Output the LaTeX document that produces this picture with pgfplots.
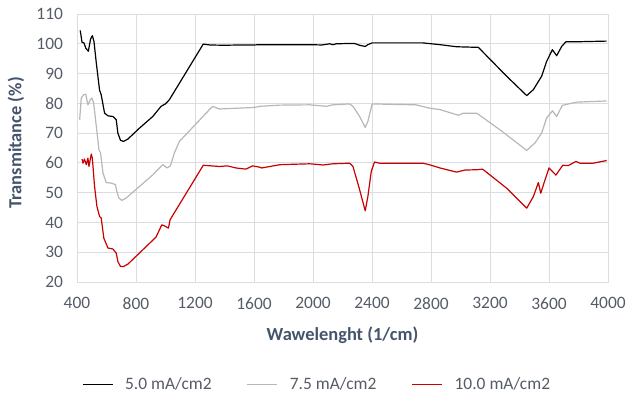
\documentclass[border=0pt]{standalone}
\usepackage{fontspec}
\setmainfont{Carlito}
\usepackage{pgfplots}
\pgfplotsset{compat=1.18}
\definecolor{gridc}{RGB}{217,221,228}
\definecolor{tickc}{RGB}{85,92,104}
\definecolor{labc}{RGB}{68,84,106}
\definecolor{grayc}{RGB}{183,183,183}
\definecolor{redc}{RGB}{200,0,0}
\begin{document}
\begin{tikzpicture}
\begin{axis}[
  scale only axis, width=531bp, height=268bp,
  xmin=400, xmax=4000, ymin=20, ymax=110,
  xtick={400,800,...,4000}, ytick={20,30,...,110},
  grid=major, major grid style={color=gridc, line width=0.9pt},
  axis line style={gridc, line width=0.9pt},
  tick style={draw=none},
  /pgf/number format/assume math mode=true,
  /pgf/number format/1000 sep={},
  ticklabel style={font=\fontsize{17.5}{19}\selectfont, text=tickc},
  xticklabel style={yshift=-12bp},
  yticklabel style={xshift=-10.5bp},
  xlabel={Wawelenght (1/cm)},
  ylabel={Transmitance (\%)},
  label style={font=\fontsize{18.5}{20}\selectfont\bfseries, text=labc},
  xlabel style={at={(axis description cs:0.5,-0.2)}, anchor=center},
  ylabel style={at={(axis description cs:-0.115,0.519)}, anchor=center, rotate=0},
  legend style={at={(axis description cs:0.452,-0.381)}, anchor=center, draw=none,
    legend columns=3, font=\fontsize{17.5}{19}\selectfont, text=tickc,
    /tikz/every even column/.append style={column sep=33bp}},
  legend image code/.code={\draw[#1] (0bp,0bp) -- (30bp,0bp); \path (40bp,0bp);},
  every axis plot/.append style={line width=1.2pt, line join=round},
]
\addplot[black] coordinates {
(422,104.5) (434,100.5) (447,100.3) (460,98.5) (477,97.5) (492,101.6) (504,102.7) (515,100.8) (531,93.5) (553,84.4) (564,82.9) (587,76.7) (610,75.8) (643,75.6) (666,74.5) (677,70) (695,67.6) (715,67.2) (745,68) (824,71.7) (914,75.6) (970,79) (999,79.8) (1026,81.2) (1256,99.9) (1300,99.6) (1400,99.5) (1500,99.6) (1600,99.6) (1640,99.7) (1776,99.7) (1978,99.7) (2060,99.6) (2113,100) (2135,99.7) (2158,100) (2248,100.1) (2282,100.1) (2316,99.5) (2354,99.1) (2372,99.7) (2401,100.3) (2744,100.3) (2861,99.7) (2974,99) (3121,98.8) (3313,89.1) (3449,82.6) (3494,84.6) (3550,89.1) (3584,94.1) (3623,98) (3652,96) (3686,99.1) (3715,100.7) (3810,100.7) (3991,100.9)
};
\addlegendentry{5.0 mA/cm2}
\addplot[grayc] coordinates {
(418,74.5) (429,81.8) (445,82.9) (459,83.1) (474,79.5) (490,81.2) (501,81.8) (513,80.1) (531,72.3) (549,64.4) (560,63.3) (576,56.6) (598,53.4) (632,53.2) (661,52.7) (670,50.4) (684,48.2) (704,47.4) (733,48.2) (824,52.1) (914,56) (981,59.4) (1011,58.3) (1033,59) (1060,63.3) (1094,67.2) (1319,79) (1365,78.1) (1455,78.3) (1600,78.6) (1640,79) (1776,79.4) (1978,79.5) (2091,79) (2135,79.5) (2248,79.8) (2271,79) (2316,75.6) (2354,71.9) (2372,73.9) (2401,79.8) (2698,79.5) (2788,78.4) (2861,77.9) (2985,76) (3019,76.7) (3110,76.7) (3268,71.1) (3449,64.2) (3505,66.7) (3550,70) (3584,75.1) (3623,77.5) (3652,75.6) (3690,79.3) (3731,79.8) (3788,80.4) (3991,80.8)
};
\addlegendentry{7.5 mA/cm2}
\addplot[redc] coordinates {
(434,61.3) (441,59.9) (450,61.3) (463,59.4) (474,61.6) (481,58.8) (497,63) (504,61.6) (519,52.1) (535,45.4) (553,42) (564,41.5) (582,34.7) (610,31.4) (643,31.1) (666,29.7) (677,26.9) (695,25.2) (715,25.2) (745,26) (846,30.8) (936,35.1) (975,39.2) (999,38.7) (1020,38.1) (1031,40.9) (1256,59.2) (1365,58.8) (1420,59) (1477,58.3) (1545,57.9) (1590,59) (1635,58.6) (1652,58.3) (1709,58.8) (1776,59.4) (1978,59.7) (2068,59.3) (2135,59.7) (2248,59.9) (2271,58.8) (2316,51) (2354,43.9) (2372,48.7) (2395,57.1) (2417,60.3) (2451,59.9) (2744,59.9) (2788,59.4) (2861,58.3) (2974,56.9) (3030,57.6) (3110,57.7) (3150,57.9) (3313,51.5) (3449,44.8) (3494,48.7) (3528,53.4) (3544,49.8) (3573,54.3) (3600,58.3) (3647,55.9) (3693,59.2) (3731,59.1) (3783,60.5) (3810,59.9) (3900,59.9) (3991,60.8)
};
\addlegendentry{10.0 mA/cm2}
\end{axis}
\pgfresetboundingbox
\path[use as bounding box] ([xshift=-77bp,yshift=-115bp]current axis.south west) rectangle ([xshift=21bp,yshift=14bp]current axis.north east);
\end{tikzpicture}
\end{document}
